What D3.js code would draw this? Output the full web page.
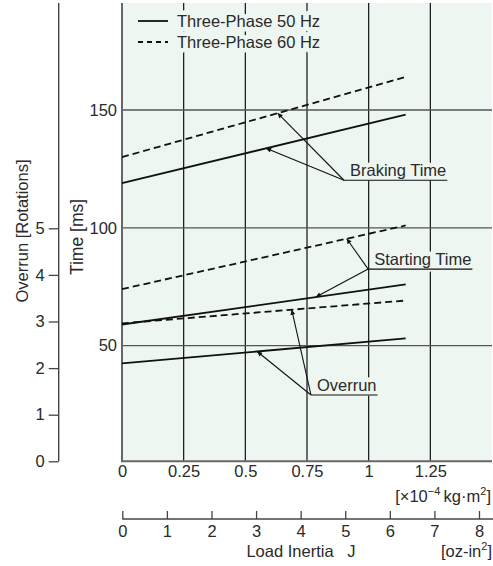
<!DOCTYPE html>
<html>
<head>
<meta charset="utf-8">
<script src="https://cdn.jsdelivr.net/npm/d3@7"></script>
<style>
  html, body { margin: 0; padding: 0; background: #fff; }
  svg { display: block; }
  text { font-family: "Liberation Sans", Arial, sans-serif; fill: #2a2a2a; }
</style>
</head>
<body>
<svg id="chart" width="493" height="566"></svg>
<script>
// ---- data ----
const loadKg = [0, 1.15];                 // load inertia ×10^-4 kg·m² at line ends
const braking50 = [119, 148];             // ms, three-phase 50 Hz
const braking60 = [130, 164];             // ms, three-phase 60 Hz
const starting50 = [59, 76];              // ms
const starting60 = [74, 101];             // ms
const overrun50 = [2.10, 2.64];           // rotations
const overrun60 = [2.96, 3.45];           // rotations

const kgTicks = [0, 0.25, 0.5, 0.75, 1, 1.25];
const ozTicks = [0, 1, 2, 3, 4, 5, 6, 7, 8];
const timeTicks = [50, 100, 150];
const rotTicks = [0, 1, 2, 3, 4, 5];
const legendLabels = ["Three-Phase 50 Hz", "Three-Phase 60 Hz"];

// annotations: label, elbow (kg, ms), arrow tips (kg on series)
const annotations = [
  { label: "Braking Time", at: [0.9, 120.2], tips: [{ s: "braking60", x: 0.631 }, { s: "braking50", x: 0.584 }] },
  { label: "Starting Time", at: [0.998, 82.5], tips: [{ s: "starting60", x: 0.911 }, { s: "starting50", x: 0.786 }] },
  { label: "Overrun", at: [0.766, 29.1], tips: [{ s: "overrun60", x: 0.688 }, { s: "overrun50", x: 0.548 }] }
];

// ---- layout ----
const W = 493, H = 566;
const plotL = 122, plotR = 492, plotT = 3, plotB = 461.3;
const bg = "#eef6f1";
const FS = 16.5;

const svg = d3.select("#chart");

const x = d3.scaleLinear().domain([0, 1.5]).range([plotL, plotR]);
const yT = d3.scaleLinear().domain([50, 150]).range([345.7, 110]);
const yR = d3.scaleLinear().domain([0, 5]).range([plotB, 228.3]);
const xOz = d3.scaleLinear().domain([0, 8]).range([122.3, 479]);

const series = {
  braking50: { vals: braking50, y: yT, dash: null },
  braking60: { vals: braking60, y: yT, dash: "7,4" },
  starting50: { vals: starting50, y: yT, dash: null },
  starting60: { vals: starting60, y: yT, dash: "7,4" },
  overrun50: { vals: overrun50, y: yR, dash: null },
  overrun60: { vals: overrun60, y: yR, dash: "7,4" }
};

// background
svg.append("rect").attr("x", plotL).attr("y", plotT)
  .attr("width", plotR - plotL).attr("height", plotB - plotT).attr("fill", bg);

// grid
svg.append("g").selectAll("line").data(kgTicks.filter(d => d > 0)).join("line")
  .attr("x1", d => x(d)).attr("x2", d => x(d)).attr("y1", plotT).attr("y2", plotB)
  .attr("stroke", "#111").attr("stroke-width", 1.2);
svg.append("g").selectAll("line").data(timeTicks).join("line")
  .attr("x1", plotL).attr("x2", plotR).attr("y1", d => yT(d)).attr("y2", d => yT(d))
  .attr("stroke", "#555").attr("stroke-width", 1.3);

// plot borders
svg.append("line").attr("x1", plotL).attr("x2", plotL).attr("y1", plotT).attr("y2", plotB)
  .attr("stroke", "#666").attr("stroke-width", 2);
svg.append("line").attr("x1", plotL - 1).attr("x2", plotR).attr("y1", plotB).attr("y2", plotB)
  .attr("stroke", "#666").attr("stroke-width", 2);

// data lines
Object.values(series).forEach(s => {
  const line = d3.line().x((d, i) => x(loadKg[i])).y(d => s.y(d));
  svg.append("path").datum(s.vals).attr("d", line)
    .attr("fill", "none").attr("stroke", "#111").attr("stroke-width", 1.8)
    .attr("stroke-dasharray", s.dash);
});

// arrow marker
const defs = svg.append("defs");
defs.append("marker").attr("id", "ah").attr("viewBox", "0 0 10 10")
  .attr("refX", 10).attr("refY", 5).attr("markerWidth", 9).attr("markerHeight", 5)
  .attr("markerUnits", "userSpaceOnUse").attr("orient", "auto")
  .append("path").attr("d", "M0,0 L10,5 L0,10 z").attr("fill", "#111");

function valueAt(s, xv) {
  const v = d3.scaleLinear().domain(loadKg).range(s.vals)(xv);
  return s.y(v);
}

const halo = (sel) => sel.attr("stroke", bg).attr("stroke-width", 9)
  .attr("stroke-linejoin", "round").attr("paint-order", "stroke");

// annotations
annotations.forEach(a => {
  const ex = x(a.at[0]), ey = yT(a.at[1]);
  const t = svg.append("text").attr("x", ex + 6).attr("y", ey - 4)
    .attr("font-size", FS).text(a.label);
  halo(t);
  const tw = t.node().getComputedTextLength();
  svg.append("line").attr("x1", ex).attr("x2", ex + 6 + tw + 1).attr("y1", ey).attr("y2", ey)
    .attr("stroke", "#111").attr("stroke-width", 1.1);
  a.tips.forEach(tp => {
    const s = series[tp.s];
    svg.append("line").attr("x1", ex).attr("y1", ey)
      .attr("x2", x(tp.x)).attr("y2", valueAt(s, tp.x))
      .attr("stroke", "#111").attr("stroke-width", 1.1).attr("marker-end", "url(#ah)");
  });
});

// legend
const leg = svg.append("g");
legendLabels.forEach((lab, i) => {
  const ly = 21 + i * 21;
  leg.append("line").attr("x1", 138).attr("x2", 168).attr("y1", ly).attr("y2", ly)
    .attr("stroke", "#111").attr("stroke-width", 1.8)
    .attr("stroke-dasharray", i === 1 ? "5,4" : null);
  halo(leg.append("text").attr("x", 177).attr("y", ly).attr("dy", "0.36em")
    .attr("font-size", FS).text(lab));
});

const styleTicks = (g) => g.selectAll("text").attr("font-size", FS)
  .attr("font-family", "Liberation Sans, Arial, sans-serif").attr("fill", "#2a2a2a");

// time axis (ms)
const gT = svg.append("g").attr("transform", `translate(${plotL},0)`)
  .call(d3.axisLeft(yT).tickValues(timeTicks).tickSize(0).tickPadding(5));
gT.select(".domain").remove();
styleTicks(gT);

// overrun axis (rotations)
const rotX = 58.7;
svg.append("line").attr("x1", rotX).attr("x2", rotX).attr("y1", plotT).attr("y2", plotB)
  .attr("stroke", "#444").attr("stroke-width", 1.4);
const gR = svg.append("g").attr("transform", `translate(${rotX},0)`)
  .call(d3.axisLeft(yR).tickValues(rotTicks).tickFormat(d3.format("d")).tickSize(10).tickPadding(4));
gR.select(".domain").remove();
gR.selectAll("line").attr("stroke", "#444").attr("stroke-width", 1.3);
styleTicks(gR);

// axis titles (rotated)
svg.append("text").attr("transform", "translate(22,231) rotate(-90)")
  .attr("text-anchor", "middle").attr("dy", "0.36em").attr("font-size", FS)
  .text("Overrun [Rotations]");
svg.append("text").attr("transform", "translate(77,237) rotate(-90)")
  .attr("text-anchor", "middle").attr("dy", "0.36em").attr("font-size", 17.5)
  .text("Time [ms]");

// kg axis
const gK = svg.append("g").attr("transform", `translate(0,${plotB})`)
  .call(d3.axisBottom(x).tickValues(kgTicks).tickFormat(d => String(d)).tickSize(0).tickPadding(4));
gK.select(".domain").remove();
styleTicks(gK);

const kgUnit = svg.append("text").attr("x", 491).attr("y", 502).attr("text-anchor", "end").attr("font-size", FS);
kgUnit.append("tspan").text("[\u00D710");
kgUnit.append("tspan").attr("font-size", 11).attr("dy", -7).text("\u22124");
kgUnit.append("tspan").attr("dy", 7).text("\u2009kg\u00B7m");
kgUnit.append("tspan").attr("font-size", 11).attr("dy", -7).text("2");
kgUnit.append("tspan").attr("dy", 7).text("]");

// oz-in² axis
const ozY = 519;
svg.append("line").attr("x1", 122.3).attr("x2", 493).attr("y1", ozY).attr("y2", ozY)
  .attr("stroke", "#444").attr("stroke-width", 1.4);
const gO = svg.append("g").attr("transform", `translate(0,${ozY})`)
  .call(d3.axisBottom(xOz).tickValues(ozTicks).tickSizeInner(-8).tickSizeOuter(0).tickPadding(6));
gO.select(".domain").remove();
gO.selectAll("line").attr("stroke", "#444").attr("stroke-width", 1.3);
styleTicks(gO);

svg.append("text").attr("x", 301).attr("y", 557).attr("text-anchor", "middle")
  .attr("font-size", FS).style("white-space", "pre").text("Load Inertia   J");
const ozUnit = svg.append("text").attr("x", 492).attr("y", 557).attr("text-anchor", "end").attr("font-size", FS);
ozUnit.append("tspan").text("[oz-in");
ozUnit.append("tspan").attr("font-size", 11).attr("dy", -7).text("2");
ozUnit.append("tspan").attr("dy", 7).text("]");
</script>
</body>
</html>
